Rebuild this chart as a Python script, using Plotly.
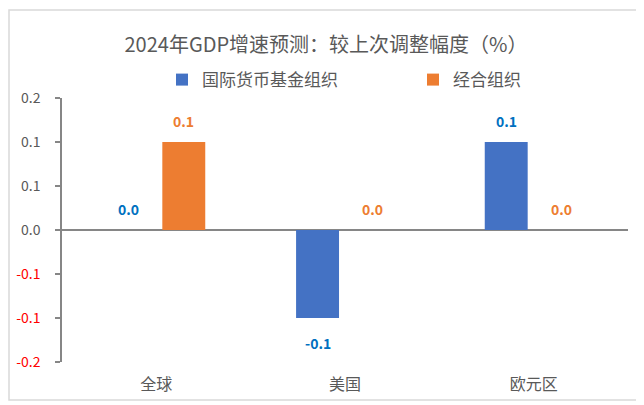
import plotly.graph_objects as go

categories = ["全球", "美国", "欧元区"]
imf_values = [0.0, -0.1, 0.1]
oecd_values = [0.1, 0.0, 0.0]
series_names = ["国际货币基金组织", "经合组织"]
tick_values = [-0.15, -0.1, -0.05, 0.0, 0.05, 0.1, 0.15]
tick_labels = ["-0.2", "-0.1", "-0.1", "0.0", "0.1", "0.1", "0.2"]
title_text = "2024年GDP增速预测：较上次调整幅度（%）"

FONT = "Noto Sans CJK SC"
BAR_COLORS = ["#4472C4", "#ED7D31"]
LABEL_COLORS = ["#0070C0", "#ED7D31"]
LEGENDS = ["legend", "legend2"]

# plot area in figure pixels (page body adds an 8px offset)
L, T, PW, PH = 54, 90, 566, 264

fig = go.Figure()
for name, vals, col, lg in zip(series_names, [imf_values, oecd_values], BAR_COLORS, LEGENDS):
    fig.add_trace(go.Bar(x=categories, y=vals, name=name, marker_color=col,
                         marker_line_width=0, legend=lg))

ticktext = [f'<span style="color:#FF0000">{t}</span>' if v < 0 else t
            for v, t in zip(tick_values, tick_labels)]

annotations = []
for si, (vals, lc) in enumerate(zip([imf_values, oecd_values], LABEL_COLORS)):
    xs = -27.5 if si == 0 else 27.5
    for c, v in zip(categories, vals):
        annotations.append(dict(x=c, y=v, xref="x", yref="y", text=f"{v:.1f}",
                                showarrow=False, xshift=xs,
                                yshift=(-25 if v < 0 else 21),
                                yanchor="middle",
                                font=dict(family=FONT, size=14, color=lc,
                                          weight="bold")))

legend_common = dict(orientation="h", y=1.068, yanchor="middle", xanchor="left",
                     itemwidth=30, bgcolor="rgba(0,0,0,0)",
                     font=dict(family=FONT, size=17, color="#595959"))

fig.update_layout(
    width=644, height=405,
    margin=dict(l=L, r=644 - L - PW, t=T, b=405 - T - PH, autoexpand=False),
    paper_bgcolor="white", plot_bgcolor="white",
    barmode="group", bargap=0.418, bargroupgap=0.218,
    font=dict(family=FONT, color="#595959"),
    title=dict(text=title_text, x=318 / 644, xref="container", xanchor="center",
               y=1 - 37 / 405, yref="container", yanchor="middle",
               font=dict(family=FONT, size=20, color="#595959")),
    showlegend=True,
    legend=dict(x=(154 - L) / PW, **legend_common),
    legend2=dict(x=(405 - L) / PW, **legend_common),
    xaxis=dict(showgrid=False, showline=False, ticks="", ticklabelstandoff=11,
               tickfont=dict(family=FONT, size=16, color="#595959")),
    yaxis=dict(range=[-0.15, 0.15], tickvals=tick_values, ticktext=ticktext,
               showgrid=False, showline=True, linecolor="#868686", linewidth=1.5,
               ticks="outside", ticklen=5, tickcolor="#868686", tickwidth=1.5,
               zeroline=True, zerolinecolor="#868686", zerolinewidth=2,
               ticklabelstandoff=12,
               tickfont=dict(family=FONT, size=14, color="#595959")),
    annotations=annotations,
    shapes=[dict(type="rect", xref="paper", yref="paper",
                 x0=(1 - L) / PW, x1=(660 - L) / PW,
                 y0=(T + PH - 392) / PH, y1=(T + PH - 2) / PH,
                 line=dict(color="#D9D9D9", width=1.5), fillcolor="rgba(0,0,0,0)",
                 layer="below")],
)

fig.write_html("out.html")
